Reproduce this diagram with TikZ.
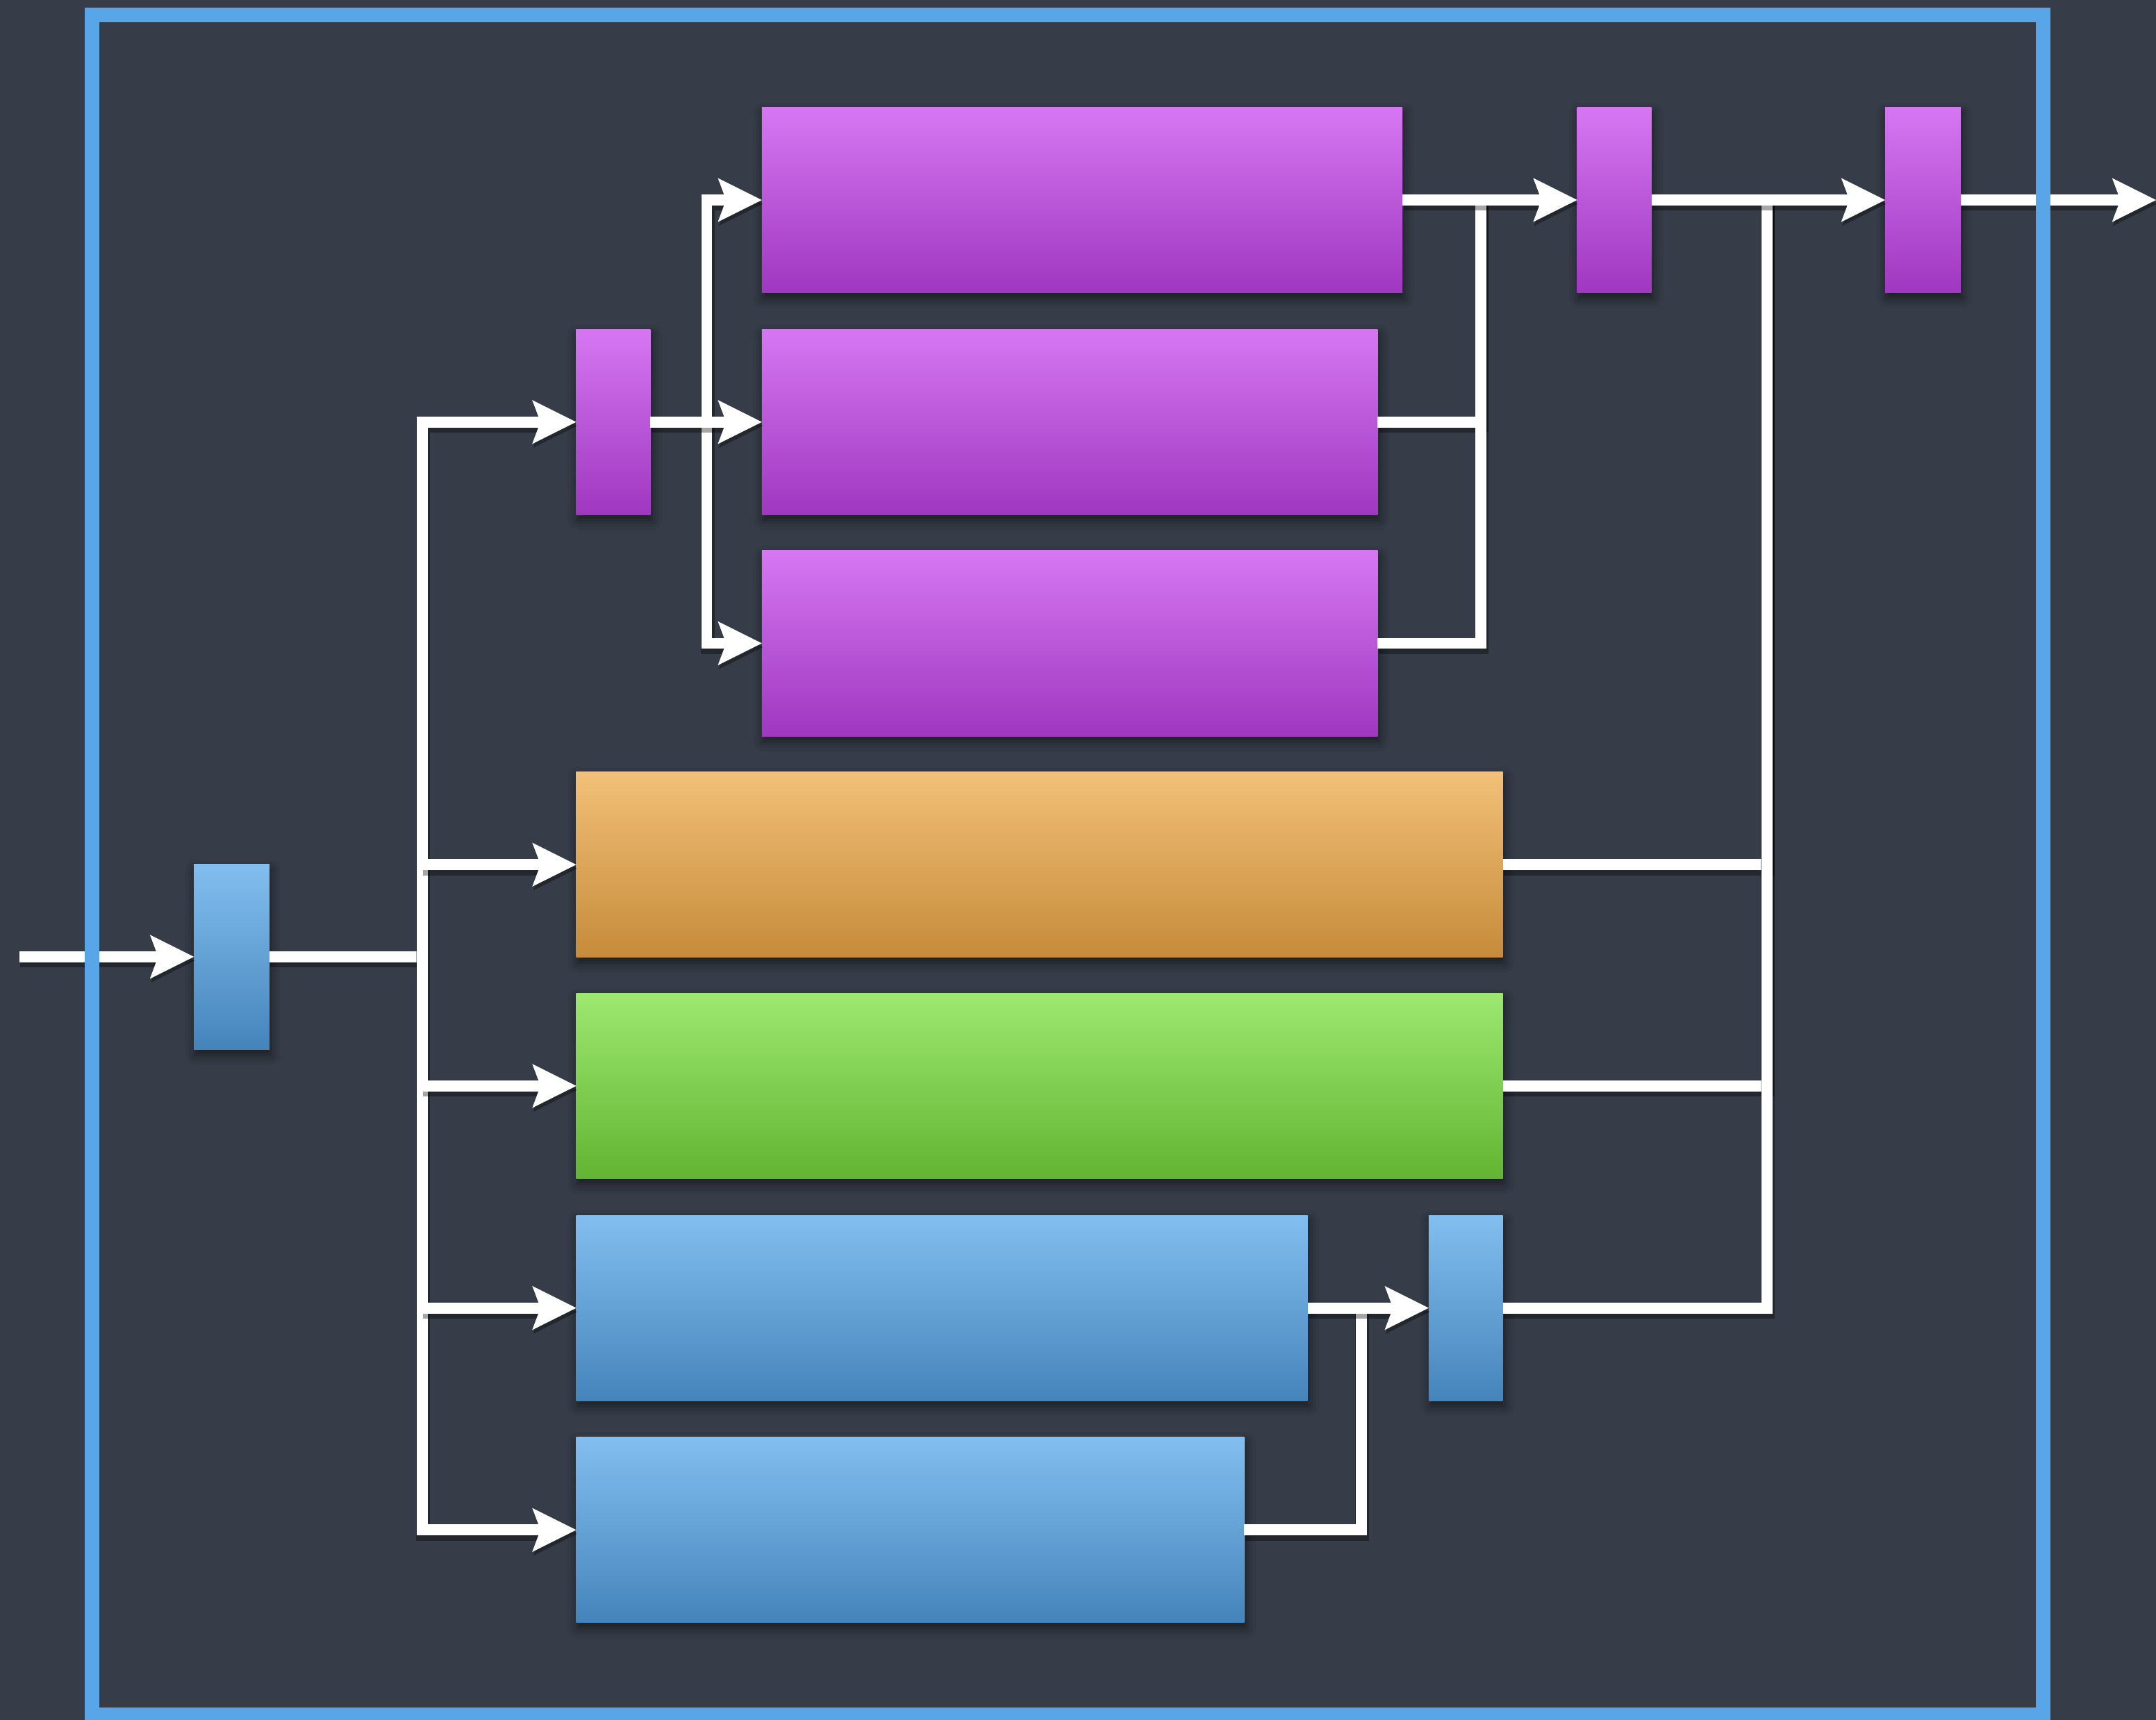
\documentclass[tikz,border=0pt]{standalone}
\usetikzlibrary{arrows.meta,shadows.blur}
\definecolor{bg}{HTML}{363D48}
\definecolor{frame}{HTML}{58A6E7}
\definecolor{ptop}{HTML}{D677F2}
\definecolor{pbot}{HTML}{9F37C0}
\definecolor{otop}{HTML}{F2C078}
\definecolor{obot}{HTML}{C68B3A}
\definecolor{gtop}{HTML}{9DE870}
\definecolor{gbot}{HTML}{62B432}
\definecolor{btop}{HTML}{82BEEF}
\definecolor{bbot}{HTML}{4584BB}
\begin{document}
\begin{tikzpicture}[x=0.02cm,y=-0.02cm,
  blk/.style={inner sep=0pt, outer sep=0pt, minimum height=2.70cm,
    blur shadow={shadow xshift=0.6pt, shadow yshift=-2.2pt, shadow blur radius=4pt, shadow opacity=55}},
  purp/.style={blk, top color=ptop, bottom color=pbot},
  oran/.style={blk, top color=otop, bottom color=obot},
  gree/.style={blk, top color=gtop, bottom color=gbot},
  blu/.style={blk, top color=btop, bottom color=bbot},
  wire/.style={draw=white, line width=0.16cm,
    preaction={draw=black, opacity=0.35, line width=0.2cm, transform canvas={xshift=0.4pt,yshift=-1.6pt}}},
  conn/.style={wire, -{Stealth[length=0.64cm,width=0.64cm,inset=0.12cm,line width=0pt]}},
  border/.style={draw=frame, line width=0.212cm}
]
\fill[bg] (0,0) rectangle (1568,1251);
\useasboundingbox (0,0) rectangle (1568,1251);

% nodes
\node[blu,  minimum width=1.10cm] (in) at (168.5,696) {};
\node[purp, minimum width=1.08cm] (p0) at (446,307) {};
\node[purp, minimum width=9.32cm] (P1) at (787,145.5) {};
\node[purp, minimum width=8.96cm] (P2) at (778,307) {};
\node[purp, minimum width=8.96cm] (P3) at (778,468) {};
\node[purp, minimum width=1.08cm] (p4) at (1174,145.5) {};
\node[purp, minimum width=1.10cm] (p5) at (1398.5,145.5) {};
\node[oran, minimum width=13.48cm] (O) at (756,629) {};
\node[gree, minimum width=13.48cm] (G) at (756,790) {};
\node[blu,  minimum width=10.64cm] (B1) at (685,951.5) {};
\node[blu,  minimum width=9.72cm] (B2) at (662,1113) {};
\node[blu,  minimum width=1.08cm] (b3) at (1066,951.5) {};

% junction coordinates
\coordinate (src) at (14,696);
\coordinate (tj) at (307,696);
\coordinate (sj) at (514,307);
\coordinate (m1) at (1077,145.5);
\coordinate (m2) at (1285,145.5);
\coordinate (m3) at (990,951.5);
\coordinate (dst) at (1568,145.5);

% connectors
\draw[conn] (src) -- (in.west);
\draw[wire] (in.east) -- (tj);
\draw[conn] (tj) |- (p0.west);
\draw[conn] (tj) |- (B2.west);
\draw[conn] (tj |- O.west) -- (O.west);
\draw[conn] (tj |- G.west) -- (G.west);
\draw[conn] (tj |- B1.west) -- (B1.west);
\draw[conn] (sj) |- (P1.west);
\draw[conn] (sj) |- (P3.west);
\draw[conn] (p0.east) -- (P2.west);
\draw[wire] (P2.east) -| (m1);
\draw[wire] (P3.east) -| (m1);
\draw[conn] (P1.east) -- (p4.west);
\draw[wire] (O.east) -| (m2);
\draw[wire] (G.east) -| (m2);
\draw[wire] (b3.east) -| (m2);
\draw[conn] (p4.east) -- (p5.west);
\draw[wire] (B2.east) -| (m3);
\draw[conn] (B1.east) -- (b3.west);
\draw[conn] (p5.east) -- (dst);

% frame
\draw[border] (66.9,10.9) rectangle (1486.1,1247.5);
\end{tikzpicture}
\end{document}
